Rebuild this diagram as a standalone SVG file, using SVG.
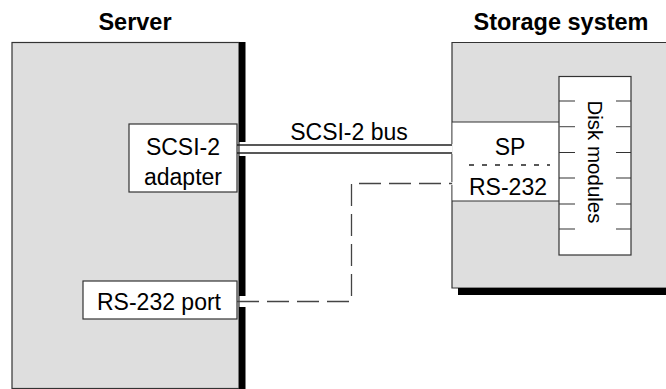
<svg xmlns="http://www.w3.org/2000/svg" width="666" height="389" viewBox="0 0 666 389">
<style>
.t{font-family:"Liberation Sans",Arial,sans-serif;font-size:23px;fill:#000;text-anchor:middle}
.b{font-weight:bold;font-size:23.5px}
.edge{stroke:#333;stroke-width:1.2;fill:none}
.shadow{fill:#000}
.panel{fill:#dedede}
.wbox{fill:#fff;stroke:#333;stroke-width:1.2}
.tick{stroke:#333;stroke-width:1.2}
</style>
<rect width="666" height="389" fill="#fff"/>
<g id="server">
  <rect class="panel" x="12" y="42.5" width="227" height="346" stroke="#333" stroke-width="1.2"/>
  <rect class="shadow" x="239" y="42" width="6.5" height="100"/>
  <rect class="shadow" x="239" y="156" width="6.5" height="140"/>
  <rect class="shadow" x="239" y="307" width="6.5" height="82"/>
  <text class="t b" x="135" y="30">Server</text>
</g>
<g id="scsi-adapter">
  <rect class="wbox" x="129" y="124" width="108" height="68"/>
  <text class="t" x="183" y="155">SCSI-2</text>
  <text class="t" x="183" y="185">adapter</text>
</g>
<g id="rs232-port">
  <rect class="wbox" x="83" y="281" width="154" height="38"/>
  <text class="t" x="159" y="310">RS-232 port</text>
</g>
<g id="storage">
  <rect class="panel" x="452" y="42.5" width="230" height="245.5"/>
  <path class="edge" d="M682,42.5 H452 V144 M452,154 V182 M452,185 V288 H682"/>
  <rect class="shadow" x="458" y="288" width="210" height="7"/>
  <text class="t b" x="561" y="30">Storage system</text>
</g>
<g id="sp">
  <rect x="452.6" y="122" width="106.4" height="79" fill="#fff"/>
  <path class="edge" d="M452,122 H559 M452,201 H559"/>
  <line x1="469" y1="165" x2="550" y2="165" stroke="#222" stroke-width="1.4" stroke-dasharray="5 8"/>
  <text class="t" x="510" y="155">SP</text>
  <text class="t" x="508" y="195">RS-232</text>
</g>
<g id="disk-modules">
  <rect class="wbox" x="559" y="76.5" width="72" height="178.5"/>
  <g class="tick">
    <path d="M559,101 H575 M616,101 H631"/>
    <path d="M559,126.7 H575 M616,126.7 H631" stroke="#666"/>
    <path d="M559,152.5 H575 M616,152.5 H631"/>
    <path d="M559,178 H575 M616,178 H631"/>
    <path d="M559,204 H575 M616,204 H631"/>
    <path d="M559,229 H575 M616,229 H631"/>
  </g>
  <text class="t" style="font-size:20.5px" transform="translate(588,162) rotate(90)">Disk modules</text>
</g>
<g id="connectors">
  <path d="M237,145 H452 M237,153 H452" stroke="#222" stroke-width="1.5" fill="none"/>
  <text class="t" x="349" y="140">SCSI-2 bus</text>
  <path d="M237,301.5 H351.5 V183.5 H452" stroke="#444" stroke-width="1.3" fill="none" stroke-dasharray="22 8"/>
</g>
</svg>
